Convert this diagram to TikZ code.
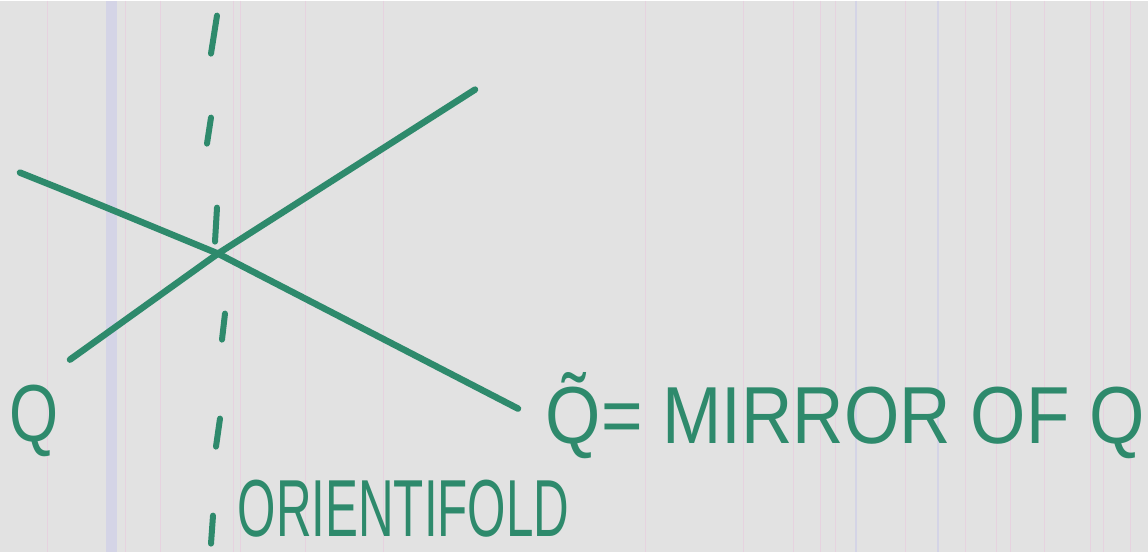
\documentclass[tikz,border=0pt]{standalone}
\usepackage{fontspec}
\setmainfont{Liberation Sans}
\usepackage{xcolor}
\definecolor{Ink}{HTML}{2E8A6C}
\definecolor{Paper}{HTML}{E2E2E2}
\definecolor{Streak}{HTML}{E6D2DF}
\definecolor{Band}{HTML}{D4D4E6}

\begin{document}
\begin{tikzpicture}[x=0.01cm,y=-0.01cm,
    pen/.style={draw=Ink,line width=0.65mm,line cap=round,line join=round},
    tick/.style={draw=Ink,line width=0.6mm,line cap=round},
    scrawl/.style={text=Ink,inner sep=0pt,font=\fontsize{23}{25}\selectfont}]
    % paper with scanner streaks
    \fill[Paper] (0,0) rectangle (1148,551);
    \fill[Band] (106,0) rectangle (117,551);
    \foreach \x in {47,125,160,233,240,305,383,645,743,793,820,835,905,965,996,1010,1044,1090,1103,1130}
      \draw[Streak,line width=0.1mm] (\x,0) -- (\x,551);
    \draw[Band,line width=0.12mm] (856,0) -- (856,551);
    \draw[Band,line width=0.12mm] (938,0) -- (938,551);

    % the two branes crossing on the fold
    \coordinate (cross) at (218,253);
    \coordinate (qa) at (70,359);
    \coordinate (qb) at (475,89);
    \coordinate (ma) at (20,172);
    \coordinate (mb) at (518,408);
    \draw[pen] (qa) -- (cross) -- (qb);
    \draw[pen] (ma) .. controls (80,196) .. (cross) -- (mb);

    % orientifold plane, drawn as ticks
    \foreach \xa/\ya/\xb/\yb in {217/15/211/53, 211/117/207/143, 217/207/215/241,
                                 225/313/222/339, 220/418/216/446, 213/515/211/543}
      \draw[tick] (\xa,\ya) -- (\xb,\yb);

    % labels
    \node[scrawl] (qlabel) at (34,420) {\scalebox{0.78}[1]{Q}};
    \node[scrawl,anchor=base west] (mirror) at (545,443)
      {\scalebox{0.88}[1]{\~{Q}= MIRROR OF Q}};
    \node[scrawl,anchor=base west] (ofold) at (237,536)
      {\scalebox{0.61}[1]{ORIENTIFOLD}};
\end{tikzpicture}
\end{document}
